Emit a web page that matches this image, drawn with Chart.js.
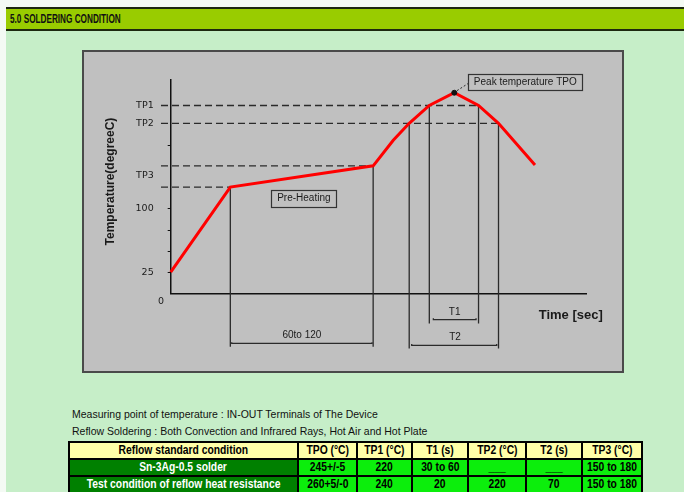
<!DOCTYPE html>
<html>
<head>
<meta charset="utf-8">
<script src="https://cdn.jsdelivr.net/npm/chart.js@4.4.1/dist/chart.umd.min.js"></script>
<style>
html, body { margin: 0; padding: 0; }
body { width: 684px; height: 492px; background: #f4faf4; position: relative; overflow: hidden; font-family: "Liberation Sans", Arial, sans-serif; }
#page { position: absolute; left: 6px; top: 7px; right: 0; bottom: 0; background: #c6eec8; }
#hdr { position: absolute; left: 6px; top: 7px; right: 0; height: 20px; background: #99cc00; border-top: 2px solid #1d2810; border-bottom: 2px solid #1d2810; }
#hdr span { position: absolute; left: 4px; top: 0; line-height: 20px; font-weight: bold; font-size: 13px; color: #111; white-space: nowrap; transform-origin: 0 50%; }
#panel { position: absolute; left: 82px; top: 50px; width: 538px; height: 319px; background: #c0c0c0; border: 2px solid #4a4a4a; }
#panel canvas { display: block; }
#notes { position: absolute; left: 72px; top: 406px; font-size: 10.5px; line-height: 17px; color: #111; white-space: nowrap; }
#tbl { position: absolute; left: 68px; top: 441px; border-collapse: collapse; table-layout: fixed; }
#tbl td { border: 2px solid #000; padding: 0; height: 15px; line-height: 15px; text-align: center; font-weight: bold; font-size: 12px; white-space: nowrap; overflow: hidden; }
#tbl td span { display: inline-block; transform: scaleX(0.86); }
#tbl tr.head td { background: #ffffa8; color: #000; }
#tbl tr.body td { background: #0cee0c; color: #000; }
#tbl tr.body td.name { background: #008000; color: #fff; }
</style>
</head>
<body>
<div id="page"></div>
<div id="hdr"><span id="hdrText">5.0 SOLDERING CONDITION</span></div>
<div id="panel"><canvas id="reflowChart" width="538" height="319"></canvas></div>
<div id="notes">
  <div>Measuring point of temperature : IN-OUT Terminals of The Device</div>
  <div>Reflow Soldering : Both Convection and Infrared Rays, Hot Air and Hot Plate</div>
</div>
<table id="tbl"></table>

<script>
// reflow profile (schematic) : time in sec, temperature in degC
const profileTime = [0, 43, 146, 160.5, 172, 186.5, 204.5, 222, 236.4, 262.7];
const profileTemp = [25, 125, 150, 180, 200, 221, 236, 221, 200, 151];

// y axis tick labels
const yTickValues = [221, 200, 139, 100, 25];
const yTickLabels = ["TP1", "TP2", "TP3", "100", "25"];
const yTickMarks = [25, 50, 75, 100, 175];

// dashed level lines [x from, x to, level]
const levelLines = [
    [-7, 222, 221],
    [-7, 236.4, 200],
    [-7, 146, 150],
    [-7, 43, 125]
];

// vertical guide lines [x, top, bottom]
const guideLines = [
    [43, 125, -63],
    [146, 150, -63],
    [172, 200, -65],
    [186.5, 221, -35.5],
    [222, 221, -35.5],
    [236.4, 200, -65]
];

// dimension lines [x from, x to, level]
const spanLines = [
    [44, 145.2, -59],
    [189.4, 220.2, -31],
    [173.8, 235.1, -61.2]
];

const peakPoint = [204.5, 236];
const peakPointer = [[206.5, 238.5], [214.6, 247]];

// table rows
const tableHead = ["Reflow standard condition", "TPO (°C)", "TP1 (°C)", "T1 (s)", "TP2 (°C)", "T2 (s)", "TP3 (°C)"];
const rowSolder = ["Sn-3Ag-0.5 solder", "245+/-5", "220", "30 to 60", "___", "___", "150 to 180"];
const rowTest = ["Test condition of reflow heat resistance", "260+5/-0", "240", "20", "220", "70", "150 to 180"];
const colWidths = [229, 59, 55, 56, 58, 56, 57];

// header text squeezed like the narrow original font
const hdrText = document.getElementById("hdrText");
hdrText.style.transform = "scaleX(" + (111 / hdrText.offsetWidth) + ")";

// build table
const tbl = document.getElementById("tbl");
let html = "<colgroup>" + colWidths.map(w => `<col style="width:${w}px">`).join("") + "</colgroup>";
html += "<tr class='head'>" + tableHead.map(t => `<td><span>${t}</span></td>`).join("") + "</tr>";
[rowSolder, rowTest].forEach(row => {
    html += "<tr class='body'>" + row.map((t, i) => `<td${i === 0 ? " class='name'" : ""}><span>${t}</span></td>`).join("") + "</tr>";
});
tbl.innerHTML = html;

// text on the drawing, in data units
const drawingText = [
    { text: "Pre-Heating", x: 96, y: 112, font: "10px 'Liberation Sans'", box: [65, 17] },
    { text: "Peak temperature TPO", x: 255.7, y: 248.5, font: "10px 'Liberation Sans'", box: [114, 16] },
    { text: "60to 120", x: 94.6, y: -49, font: "10px 'Liberation Sans'" },
    { text: "T1", x: 204.8, y: -22.8, font: "10px 'Liberation Sans'" },
    { text: "T2", x: 205, y: -51.8, font: "10px 'Liberation Sans'" },
    { text: "Time [sec]", x: 288.5, y: -25.5, font: "bold 13px 'Liberation Sans'" },
    { text: "0", x: -7, y: -9.2, font: "9.5px 'DejaVu Sans'" },
    { text: "Temperature(degreeC)", x: -43.3, y: 131.5, font: "bold 12px 'Liberation Sans'", rotate: true }
];

const annotate = {
    id: "annotate",
    afterDatasetsDraw(chart) {
        const { ctx, scales: { x, y } } = chart;
        ctx.save();
        // small y tick marks
        ctx.strokeStyle = "#111";
        ctx.lineWidth = 1;
        yTickMarks.forEach(v => {
            const py = Math.round(y.getPixelForValue(v)) + 0.5;
            ctx.beginPath();
            ctx.moveTo(x.left - 3, py);
            ctx.lineTo(x.left, py);
            ctx.stroke();
        });
        ctx.textAlign = "center";
        ctx.textBaseline = "middle";
        drawingText.forEach(t => {
            const px = x.getPixelForValue(t.x);
            const py = y.getPixelForValue(t.y);
            ctx.font = t.font;
            if (t.box) {
                const [w, h] = t.box;
                ctx.fillStyle = "#c0c0c0";
                ctx.fillRect(px - w / 2, py - h / 2, w, h);
                ctx.strokeStyle = "#333";
                ctx.lineWidth = 1.2;
                ctx.strokeRect(Math.round(px - w / 2) + 0.5, Math.round(py - h / 2) + 0.5, w, h);
            }
            ctx.fillStyle = "#1a1a1a";
            if (t.rotate) {
                ctx.save();
                ctx.translate(px, py);
                ctx.rotate(-Math.PI / 2);
                ctx.fillText(t.text, 0, 0);
                ctx.restore();
            } else {
                ctx.fillText(t.text, px, py);
            }
        });
        ctx.restore();
    }
};

const lineStyle = { borderColor: "#2a2a2a", borderWidth: 1.3, pointRadius: 0, showLine: true, clip: false, order: 2 };

const datasets = [
    {
        data: profileTime.map((t, i) => ({ x: t, y: profileTemp[i] })),
        borderColor: "#ff0000", borderWidth: 3, pointRadius: 0, showLine: true, clip: false, order: 0
    },
    {
        data: [{ x: peakPoint[0], y: peakPoint[1] }],
        pointRadius: 2.5, pointBackgroundColor: "#111", pointBorderColor: "#111", showLine: false, clip: false, order: -1
    },
    {
        ...lineStyle, borderWidth: 1, borderDash: [2, 2],
        data: peakPointer.map(p => ({ x: p[0], y: p[1] }))
    }
];
levelLines.forEach(l => datasets.push({ ...lineStyle, borderDash: [7, 4], data: [{ x: l[0], y: l[2] }, { x: l[1], y: l[2] }] }));
guideLines.forEach(l => datasets.push({ ...lineStyle, data: [{ x: l[0], y: l[1] }, { x: l[0], y: l[2] }] }));
spanLines.forEach(l => datasets.push({ ...lineStyle, data: [{ x: l[0], y: l[2] + 1.5 }, { x: l[0], y: l[2] }, { x: l[1], y: l[2] }, { x: l[1], y: l[2] + 1.5 }] }));

new Chart(document.getElementById("reflowChart").getContext("2d"), {
    type: "scatter",
    data: { datasets: datasets },
    options: {
        responsive: false,
        animation: false,
        devicePixelRatio: 1,
        layout: { padding: { left: 0, top: 28, right: 35.3, bottom: 77.7 } },
        plugins: { legend: { display: false }, tooltip: { enabled: false } },
        scales: {
            x: {
                type: "linear", min: 0, max: 300,
                ticks: { display: false },
                grid: { display: false, drawTicks: false },
                border: { display: true, color: "#111", width: 1.5 }
            },
            y: {
                type: "linear", min: 0, max: 251,
                afterBuildTicks: scale => { scale.ticks = yTickValues.map(v => ({ value: v })); },
                afterFit: scale => { scale.width = 86.7; },
                ticks: {
                    padding: 17, color: "#1a1a1a", autoSkip: false,
                    font: { family: "DejaVu Sans", size: 9.5 },
                    callback: (v, i) => yTickLabels[i]
                },
                grid: { display: false, drawTicks: false },
                border: { display: true, color: "#111", width: 1.5 }
            }
        }
    },
    plugins: [annotate]
});
</script>
</body>
</html>
